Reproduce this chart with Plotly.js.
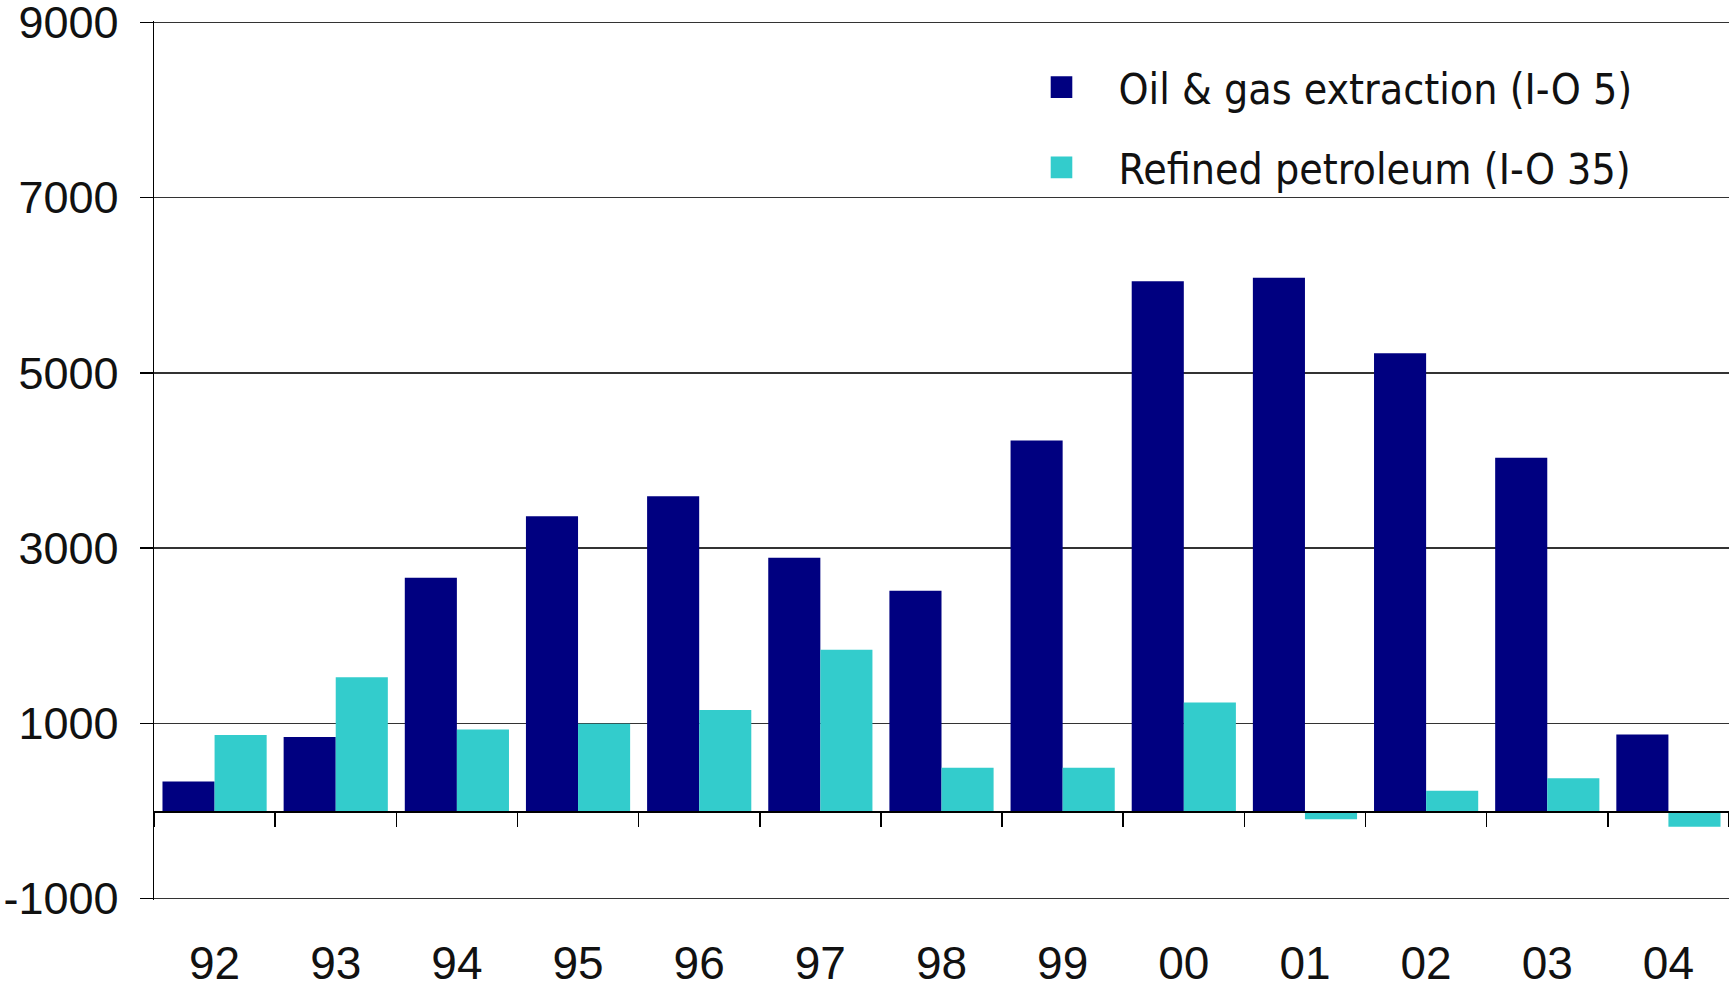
<!DOCTYPE html>
<html>
<head>
<meta charset="utf-8">
<script src="https://cdn.plot.ly/plotly-3.0.1.min.js"></script>
<style>
html,body{margin:0;padding:0;background:#fff;}
#chart{width:1729px;height:987px;}
</style>
</head>
<body>
<div id="chart"></div>
<script>
const years = ["92","93","94","95","96","97","98","99","00","01","02","03","04"];
const oilGas = [336, 846, 2661, 3364, 3592, 2891, 2514, 4229, 6046, 6086, 5223, 4031, 873];
const refined = [869, 1527, 930, 995, 1154, 1840, 495, 495, 1239, -95, 233, 374, -178];
const seriesNames = ["Oil & gas extraction (I-O 5)", "Refined petroleum (I-O 35)"];
const seriesColors = ["#000080", "#33CCCC"];
const yTicks = [-1000, 1000, 3000, 5000, 7000, 9000];

const traces = [oilGas, refined].map((vals, i) => ({
  type: "bar",
  x: years,
  y: vals,
  name: seriesNames[i],
  legendgroup: "g" + i,
  marker: {color: seriesColors[i], line: {width: 0}},
  hoverinfo: "x+y"
}));

// y range slightly padded so the edge gridlines (9000, -1000) are not clipped
const yPad = 15;

const layout = {
  width: 1729,
  height: 987,
  margin: {l: 154, r: 0, t: 20.7, b: 86.7, pad: 0},
  paper_bgcolor: "#ffffff",
  plot_bgcolor: "#ffffff",
  barmode: "group",
  bargap: 0.14,
  bargroupgap: 0,
  showlegend: true,
  legend: {
    x: 0.54, y: 1 - (32 / 879.6), xanchor: "left", yanchor: "top",
    bgcolor: "rgba(0,0,0,0)",
    font: {family: "Liberation Sans Narrow, DejaVu Sans Condensed, Roboto, sans-serif", size: 42.5, color: "#111"},
    itemwidth: 104,
    traceorder: "grouped",
    tracegroupgap: 22
  },
  xaxis: {
    type: "category",
    anchor: "free",
    position: (0 - (-1000 - yPad)) / (10000 + 2 * yPad),
    showline: true,
    linecolor: "#000",
    linewidth: 1.5,
    ticks: "outside",
    tickson: "boundaries",
    ticklen: 14,
    tickwidth: 1.5,
    tickcolor: "#000",
    showgrid: false,
    zeroline: false,
    ticklabelstandoff: 111,
    ticklabeloverflow: "allow",
    tickfont: {family: "Liberation Sans, Arial, sans-serif", size: 46, color: "#111"},
    fixedrange: true
  },
  yaxis: {
    range: [-1000 - yPad, 9000 + yPad],
    tickvals: yTicks,
    ticktext: yTicks.map(String),
    showline: true,
    linecolor: "#000",
    linewidth: 1.5,
    ticks: "outside",
    ticklen: 13,
    tickwidth: 1.5,
    tickcolor: "#000",
    ticklabelstandoff: 12,
    ticklabeloverflow: "allow",
    showgrid: true,
    gridcolor: "#333",
    gridwidth: 1.5,
    zeroline: false,
    tickfont: {family: "Liberation Sans, Arial, sans-serif", size: 45, color: "#111"},
    fixedrange: true
  }
};

Plotly.newPlot("chart", traces, layout, {displayModeBar: false, staticPlot: true}).then(() => {
  document.querySelectorAll(".legendpoints path").forEach(p => {
    const t = p.getAttribute("transform") || "";
    p.setAttribute("transform", t + " scale(1.8)");
  });
});
</script>
</body>
</html>
